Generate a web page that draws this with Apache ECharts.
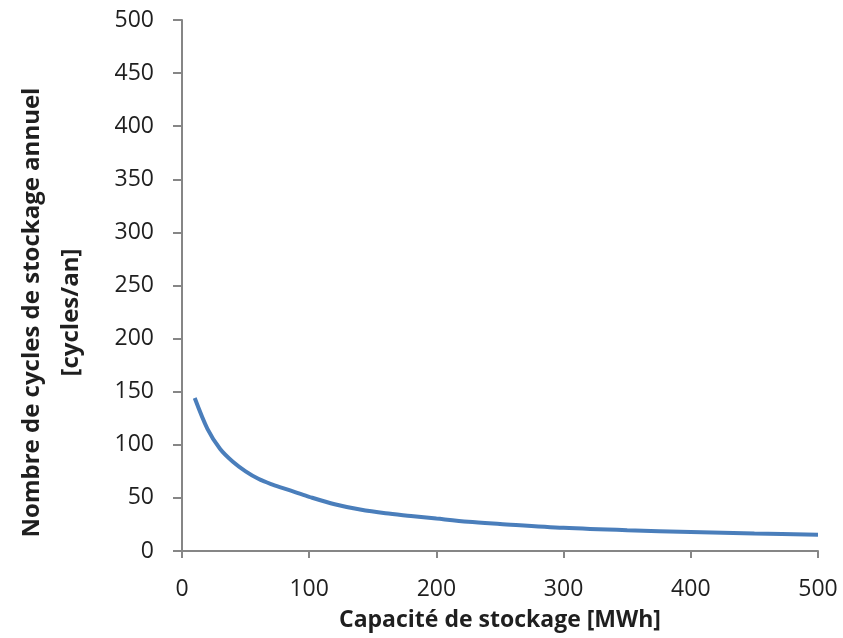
<!DOCTYPE html>
<html>
<head>
<meta charset="utf-8">
<script src="https://cdn.jsdelivr.net/npm/echarts@6/dist/echarts.min.js"></script>
<style>
html,body{margin:0;padding:0;background:#fff;}
#chart{width:843px;height:638px;}
</style>
</head>
<body>
<div id="chart"></div>
<script>
const capacity = [10, 20, 30, 40, 50, 60, 70, 80, 90, 100, 120, 140, 160, 180, 200, 225, 250, 300, 350, 400, 450, 500];
const cycles =   [144, 115, 96, 84, 75, 68, 63, 59, 55, 51, 44, 39, 35.5, 33, 30.5, 27.5, 25.5, 21.8, 19.5, 17.9, 16.5, 15.4];
const xTitle = 'Capacité de stockage [MWh]';
const yTitle = 'Nombre de cycles de stockage annuel\n[cycles/an]';

const chart = echarts.init(document.getElementById('chart'), null, {renderer: 'canvas'});
const font = '"Open Sans", "Liberation Sans", sans-serif';
const axisColor = '#868686';
const textColor = '#1f1f1f';
chart.setOption({
  animation: false,
  backgroundColor: '#fff',
  grid: {left: 182, right: 25, top: 20, bottom: 87, containLabel: false, outerBoundsMode: 'none'},
  xAxis: {
    type: 'value', min: 0, max: 500, interval: 100,
    name: xTitle, nameLocation: 'middle', nameGap: 58,
    nameTextStyle: {fontFamily: font, fontSize: 23, fontWeight: 'bold', color: textColor},
    axisLine: {show: true, lineStyle: {color: axisColor, width: 2}},
    axisTick: {show: true, length: 7, lineStyle: {color: axisColor, width: 2}},
    axisLabel: {fontFamily: font, fontSize: 23, color: textColor, margin: 27},
    splitLine: {show: false}
  },
  yAxis: {
    type: 'value', min: 0, max: 500, interval: 50,
    name: yTitle, nameLocation: 'middle', nameGap: 91, nameRotate: 90,
    nameTextStyle: {fontFamily: font, fontSize: 24, fontWeight: 'bold', color: textColor, lineHeight: 39, align: 'center', padding: [0, 54, 0, 0]},
    axisLine: {show: true, lineStyle: {color: axisColor, width: 2}},
    axisTick: {show: true, length: 9, lineStyle: {color: axisColor, width: 2}},
    axisLabel: {fontFamily: font, fontSize: 23, color: textColor, margin: 28},
    splitLine: {show: false}
  },
  series: [{
    type: 'line',
    data: capacity.map((c, i) => [c, cycles[i]]),
    smooth: 0.3,
    symbol: 'none',
    lineStyle: {color: '#4a7ebb', width: 4}
  }]
});
</script>
</body>
</html>
